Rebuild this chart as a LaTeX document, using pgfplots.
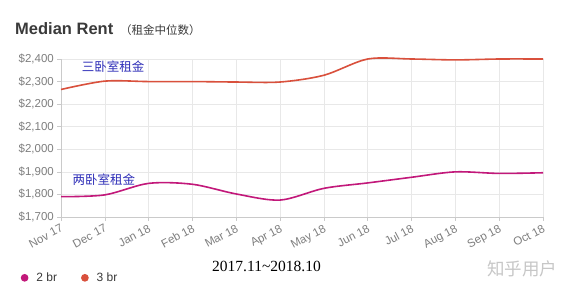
\documentclass[border=0pt]{standalone}
\usepackage{pgfplots}
\pgfplotsset{compat=1.18}
\usepackage{fontspec}
\setmainfont{Liberation Sans}
\newfontfamily\cjk{Noto Sans CJK SC}
\newfontfamily\seriffont{Liberation Serif}
\definecolor{twobr}{HTML}{C2187A}
\definecolor{threebr}{HTML}{D9503C}
\definecolor{tickgray}{HTML}{7E7E7E}
\definecolor{gridgray}{HTML}{E8E8E8}
\definecolor{axgray}{HTML}{CACACA}
\definecolor{annblue}{HTML}{2E2EB8}
\definecolor{titlegray}{HTML}{3A3A3A}
\begin{document}
\begin{tikzpicture}[x=1pt,y=1pt]
\useasboundingbox[fill=white] (0,0) rectangle (569,294);
\begin{axis}[
  at={(61pt,77pt)}, anchor=south west,
  scale only axis, width=482pt, height=158pt,
  xmin=0, xmax=11, ymin=1700, ymax=2400,
  xtick={0,...,11},
  xticklabels={Nov 17,Dec 17,Jan 18,Feb 18,Mar 18,Apr 18,May 18,Jun 18,Jul 18,Aug 18,Sep 18,Oct 18},
  ytick={1700,1800,...,2400},
  yticklabels={{\$1,700},{\$1,800},{\$1,900},{\$2,000},{\$2,100},{\$2,200},{\$2,300},{\$2,400}},
  grid=major, major grid style={gridgray, line width=0.6pt},
  axis x line*=bottom, axis y line*=left,
  axis line style={-, axgray, line width=0.8pt},
  tick style={axgray, line width=0.6pt}, tick align=outside, major tick length=4pt,
  ticklabel style={font=\fontsize{11.5}{12}\selectfont, text=tickgray},
  xticklabel style={rotate=28, anchor=north east, inner sep=2pt},
  yticklabel style={inner sep=3pt},
  legend style={at={(rel axis cs:-0.09,-0.385)}, anchor=west, draw=none, fill=none,
    font=\fontsize{12}{12}\selectfont, text=titlegray, legend columns=2,
    /tikz/every even column/.append style={column sep=22pt}},
  legend image code/.code={\fill[#1] (3pt,0pt) circle (3pt); \path (12pt,0pt);},
  clip=false,
]
\addplot[color=twobr, line width=1.6pt, smooth, tension=0.5] coordinates {
  (0,1790) (1,1798) (2,1849) (3,1845) (4,1802) (5,1775) (6,1827) (7,1851) (8,1876) (9,1900) (10,1893) (11,1896)
};
\addlegendentry{2 br}
\addplot[color=threebr, line width=1.6pt, smooth, tension=0.5] coordinates {
  (0,2265) (1,2302) (2,2300) (3,2300) (4,2298) (5,2298) (6,2328) (7,2400) (8,2400) (9,2396) (10,2400) (11,2400)
};
\addlegendentry{3 br}
\node[text=annblue, font=\cjk\fontsize{12.5}{13}\selectfont] at (axis cs:1.19,2365) {三卧室租金};
\node[text=annblue, font=\cjk\fontsize{12.5}{13}\selectfont] at (axis cs:0.98,1864) {两卧室租金};
\end{axis}
\node[anchor=base west, inner sep=0pt, text=titlegray, font=\bfseries\fontsize{16.5}{17}\selectfont] at (15,259) {Median Rent};
\node[anchor=base west, inner sep=0pt, text=titlegray, font=\cjk\fontsize{11.5}{12}\selectfont] at (120,259) {（租金中位数）};
\node[anchor=base, inner sep=0pt, font=\seriffont\fontsize{15.5}{16}\selectfont] at (266.5,23) {2017.11\textasciitilde 2018.10};
\node[anchor=center, inner sep=0pt, text=black!22, font=\cjk\fontsize{17.5}{18}\selectfont] at (522,25) {知乎用户};
\end{tikzpicture}
\end{document}
